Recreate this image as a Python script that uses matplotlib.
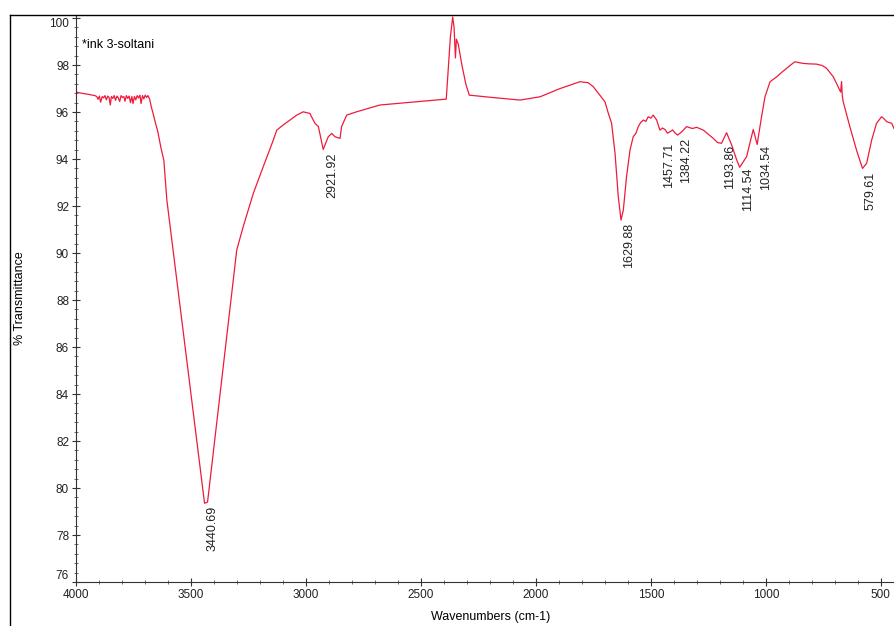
import matplotlib
matplotlib.use("Agg")
import matplotlib.pyplot as plt
from matplotlib.lines import Line2D
from matplotlib.ticker import MultipleLocator

plt.rcParams["font.family"] = ["Liberation Sans", "DejaVu Sans"]

# spectrum: wavenumber (cm-1) and % transmittance
wavenumbers = [
    4000, 3975, 3950, 3930, 3918, 3910, 3904, 3898, 3893, 3886, 3880, 3874,
    3868, 3862, 3856, 3851, 3846, 3840, 3834, 3828, 3822, 3816, 3810, 3804,
    3798, 3792, 3787, 3781, 3775, 3769, 3763, 3757, 3752, 3746, 3740, 3734,
    3728, 3722, 3717, 3711, 3705, 3699, 3693, 3687, 3680, 3672, 3665, 3655,
    3645, 3630, 3618, 3605, 3441, 3428, 3301, 3273, 3229, 3186, 3142, 3127,
    3099, 3040, 3012, 2983, 2961, 2946, 2925, 2903, 2888, 2874, 2852, 2845,
    2823, 2780, 2678, 2390, 2372, 2362, 2356, 2350, 2346, 2338, 2322, 2305,
    2290, 2200, 2069, 1982, 1895, 1809, 1773, 1751, 1722, 1700, 1685, 1671,
    1656, 1642, 1630, 1620, 1606, 1591, 1577, 1565, 1555, 1545, 1533, 1522,
    1512, 1500, 1490, 1475, 1461, 1450, 1439, 1428, 1417, 1406, 1396, 1384,
    1366, 1345, 1320, 1301, 1272, 1250, 1229, 1210, 1193, 1171, 1149, 1127,
    1114, 1084, 1055, 1038, 1019, 1004, 982, 953, 930, 910, 890, 874,
    855, 838, 810, 780, 755, 736, 707, 686, 675, 671, 668, 664,
    635, 606, 580, 562, 540, 519, 497, 485, 475, 453, 443,
]
transmittance = [
    96.85, 96.80, 96.76, 96.72, 96.70, 96.66, 96.54, 96.68, 96.42, 96.66, 96.60, 96.70,
    96.52, 96.68, 96.62, 96.30, 96.66, 96.58, 96.70, 96.50, 96.68, 96.60, 96.45, 96.70,
    96.62, 96.66, 96.46, 96.70, 96.58, 96.68, 96.40, 96.66, 96.36, 96.66, 96.52, 96.70,
    96.60, 96.72, 96.36, 96.70, 96.56, 96.72, 96.62, 96.70, 96.55, 96.20, 95.95, 95.55,
    95.20, 94.45, 93.95, 92.26, 79.35, 79.40, 90.13, 91.12, 92.54, 93.67, 94.81, 95.23,
    95.45, 95.87, 96.01, 95.94, 95.52, 95.38, 94.41, 94.95, 95.09, 94.95, 94.88, 95.38,
    95.87, 96.01, 96.30, 96.55, 99.20, 100.05, 99.60, 98.30, 99.10, 98.90, 98.00, 97.20,
    96.72, 96.63, 96.51, 96.65, 97.00, 97.29, 97.25, 97.08, 96.72, 96.44, 95.94, 95.52,
    94.24, 92.40, 91.40, 91.83, 93.25, 94.38, 94.95, 95.10, 95.38, 95.55, 95.66, 95.60,
    95.80, 95.74, 95.87, 95.66, 95.23, 95.32, 95.26, 95.10, 95.16, 95.24, 95.12, 95.02,
    95.16, 95.38, 95.30, 95.35, 95.23, 95.05, 94.88, 94.70, 94.67, 95.12, 94.60, 93.96,
    93.65, 94.10, 95.26, 94.62, 95.80, 96.65, 97.29, 97.50, 97.70, 97.86, 98.02, 98.14,
    98.10, 98.07, 98.05, 98.04, 97.98, 97.86, 97.50, 97.08, 96.85, 97.30, 96.70, 96.44,
    95.38, 94.38, 93.60, 93.82, 94.81, 95.52, 95.80, 95.70, 95.59, 95.52, 95.30,
]

# labelled peaks
peak_wn = [3440.69, 2921.92, 1629.88, 1457.71, 1384.22, 1193.86, 1114.54, 1034.54, 579.61]
peak_t = [79.35, 94.41, 91.40, 94.81, 95.02, 94.72, 93.74, 94.72, 93.57]

fig = plt.figure(figsize=(8.94, 6.26), dpi=100)
ax = fig.add_axes([76 / 894, 44 / 626, 818 / 894, 567 / 626])

ax.plot(wavenumbers, transmittance, color="#f01a3c", linewidth=0.9)

for wn, t in zip(peak_wn, peak_t):
    ax.annotate(f"{wn:.2f}", xy=(wn, t), xytext=(6, -2), textcoords="offset points",
                rotation=90, ha="center", va="top", fontsize=9, color="#222222")

ax.text(6 / 818, (582 - 45) / 567, "*ink 3-soltani", transform=ax.transAxes,
        fontsize=9, va="center")

ax.set_xlim(4000, 443)
ax.set_ylim(76, 100.13)
ax.xaxis.set_major_locator(MultipleLocator(500))
ax.xaxis.set_minor_locator(MultipleLocator(100))
ax.yaxis.set_major_locator(MultipleLocator(2))
ax.yaxis.set_minor_locator(MultipleLocator(0.4))

for side in ("top", "right"):
    ax.spines[side].set_visible(False)
for side in ("left", "bottom"):
    ax.spines[side].set_color("#333333")
    ax.spines[side].set_linewidth(0.8)

ax.tick_params(which="major", direction="inout", length=6, width=0.8,
               labelsize=8.5, colors="#333333", labelcolor="#222222", pad=2)
ax.tick_params(which="minor", direction="inout", length=3, width=0.6, colors="#555555")

ax.set_xlabel("Wavenumbers (cm-1)", fontsize=9)
ax.set_ylabel("% Transmittance", fontsize=9)
ax.xaxis.set_label_coords(0.507, -0.052)
ax.yaxis.set_label_coords(-0.061, 0.5)

# end labels sit inside the axis range, as in the original software
fig.canvas.draw()
for tick in ax.yaxis.get_major_ticks():
    if abs(tick.get_loc() - 100) < 1e-6:
        tick.label1.set_va("top")
    elif abs(tick.get_loc() - 76) < 1e-6:
        tick.label1.set_va("bottom")

# outer frame around the plot window (left and top edges visible)
fig.add_artist(Line2D([10 / 894, 10 / 894], [0, 1 - 15 / 626], transform=fig.transFigure,
                      color="black", linewidth=1))
fig.add_artist(Line2D([10 / 894, 1], [1 - 15 / 626, 1 - 15 / 626], transform=fig.transFigure,
                      color="black", linewidth=1))

fig.savefig("out.png", dpi=100)
